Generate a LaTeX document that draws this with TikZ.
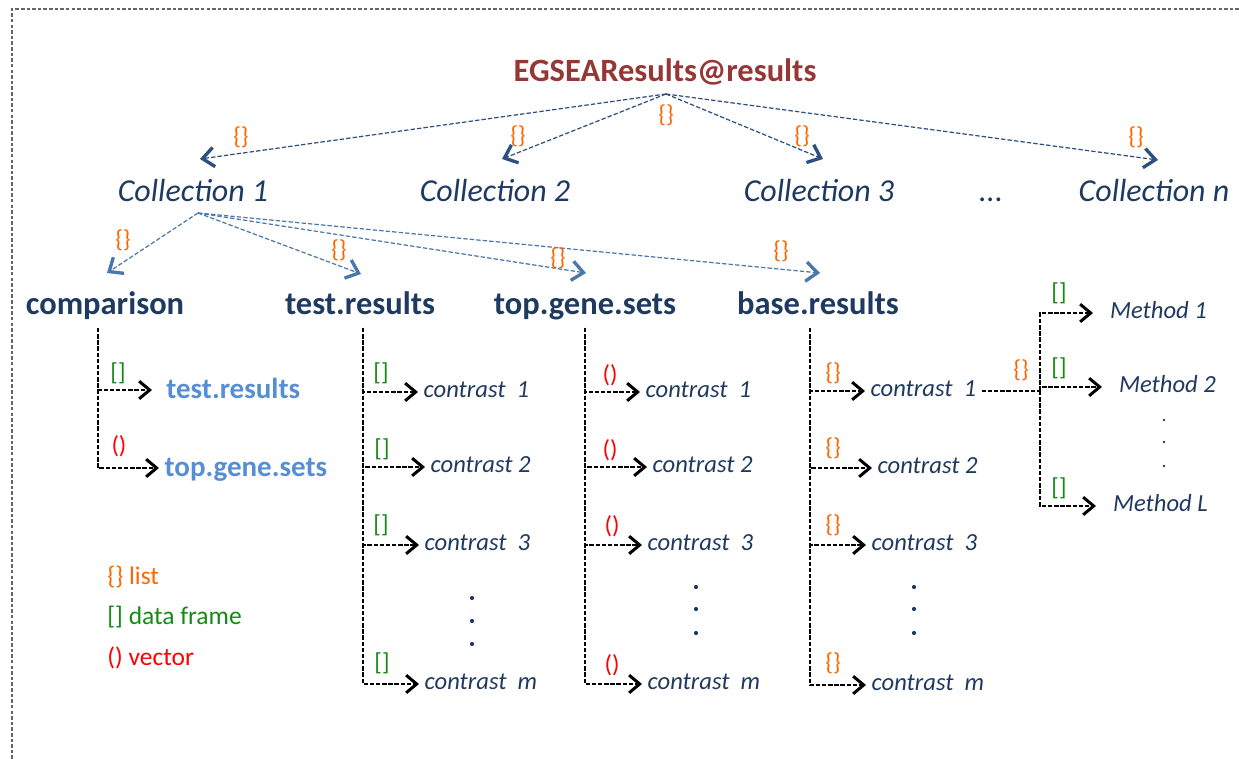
\documentclass[tikz,border=0pt]{standalone}
\usepackage{fontspec}
\setmainfont{Carlito}
\usepackage{xcolor}
\usepackage{tikz}
\usetikzlibrary{arrows.meta,positioning}

\definecolor{navy}{HTML}{1F3A60}
\definecolor{titlered}{HTML}{953735}
\definecolor{linkblue}{HTML}{2C5080}
\definecolor{subblue}{HTML}{4A78AC}
\definecolor{lightblue}{HTML}{558ED5}
\definecolor{listorange}{HTML}{FF6600}
\definecolor{framegreen}{HTML}{148A14}
\definecolor{vecred}{HTML}{FF0000}

\begin{document}
\begin{tikzpicture}[x=0.02cm,y=-0.02cm]
\useasboundingbox (0,0) rectangle (1239,759);

\tikzstyle{frame}=[gray!80!black,dash pattern=on 2pt off 1.2pt,line width=0.6pt]
\tikzstyle{coll}=[font=\fontsize{18.2}{20}\selectfont\itshape,text=navy,inner sep=0pt,text height=1.05em,text depth=0.1em]
\tikzstyle{slot}=[font=\fontsize{18.5}{22}\selectfont\bfseries,text=navy,inner sep=0pt,text height=1.02em,text depth=0.1em]
\tikzstyle{item}=[anchor=west,inner xsep=3pt,inner ysep=0pt,text height=0.71em,text depth=0.07em,font=\fontsize{14}{16}\selectfont\itshape,text=navy]
\tikzstyle{subitem}=[item,font=\fontsize{16.5}{19}\selectfont\bfseries,text=lightblue,text height=1.05em,text depth=0.06em]
\tikzstyle{meth}=[item,inner xsep=9.5pt]
\tikzstyle{lst}=[font=\fontsize{14}{16}\selectfont,text=listorange,inner sep=0pt]
\tikzstyle{dfr}=[lst,text=framegreen]
\tikzstyle{vec}=[lst,text=vecred]
\tikzstyle{legendtxt}=[anchor=west,inner sep=0pt,font=\fontsize{14.5}{16}\selectfont]
\tikzstyle{rootlink}=[linkblue,dash pattern=on 2.5pt off 1.2pt,line width=0.7pt,-{Straight Barb[length=6.5pt,width=11pt,line width=1.9pt]}]
\tikzstyle{sublink}=[rootlink,subblue]
\tikzstyle{leafline}=[black,dash pattern=on 2.5pt off 1pt,line width=0.6pt]
\tikzstyle{leaflink}=[leafline,-{Straight Barb[length=6pt,width=10pt,line width=1.7pt]}]

\draw[frame] (12,759) |- (1239,9);

\node[slot,text=titlered] (res) at (665,73) {EGSEAResults@results};
\coordinate (resb) at (666,94);

\node[coll] (col1) at (193,193) {Collection 1};
\node[coll] (col2) at (495,193) {Collection 2};
\node[coll] (col3) at (819,193) {Collection 3};
\node[coll] (coldots) at (991,193) {...};
\node[coll] (coln) at (1154,193) {Collection n};

\draw[rootlink] (resb) -- ([shift={(7,-34)}]col1.center);
\draw[rootlink] (resb) -- ([shift={(7,-34)}]col2.center);
\draw[rootlink] (resb) -- ([shift={(4,-34)}]col3.center);
\draw[rootlink] (resb) -- ([shift={(4,-33)}]coln.center);
\node[lst] (b0) at (666,115) {\{\}};
\node[lst] (b1) at (241,137) {\{\}};
\node[lst] (b2) at (518,136) {\{\}};
\node[lst] (b3) at (802,136) {\{\}};
\node[lst] (bn) at (1136,137) {\{\}};

\node[slot] (cmp) at (105,306) {comparison};
\node[slot] (tres) at (360,306) {test.results};
\node[slot] (tgs) at (585,306) {top.gene.sets};
\node[slot] (bres) at (818,306) {base.results};

\coordinate (c1b) at (198,213);
\draw[sublink] (c1b) -- ([shift={(2,-33)}]cmp.center);
\draw[sublink] (c1b) -- ([shift={(1,-32)}]tres.center);
\draw[sublink] (c1b) -- ([shift={(1,-33)}]tgs.center);
\draw[sublink] (c1b) -- ([shift={(2,-33)}]bres.center);
\node[lst] (s1) at (123,240) {\{\}};
\node[lst] (s2) at (339,250) {\{\}};
\node[lst] (s3) at (558,258) {\{\}};
\node[lst] (s4) at (781,251) {\{\}};

\coordinate (cmpv) at (98,328);
\node[subitem,inner xsep=8pt] (cmpt) at (152,390) {test.results};
\node[subitem] (cmpg) at (159,468) {top.gene.sets};
\draw[leaflink] (cmpv) |- (cmpt.west);
\draw[leaflink] (cmpv) |- (cmpg.west);
\node[dfr] (l1) at (118,373) {[]};
\node[vec] (l2) at (119,446) {()};

\coordinate (trv) at (363,328);
\node[item] (tr1) at (418,392) {contrast\ \ 1};
\node[item] (tr2) at (425,467) {contrast 2};
\node[item] (tr3) at (419,545) {contrast\ \ 3};
\node[item] (trm) at (419,684) {contrast\ \ m};
\draw[leaflink] (trv) |- (tr1.west);
\draw[leaflink] (trv) |- (tr2.west);
\draw[leaflink] (trv) |- (tr3.west);
\draw[leaflink] (trv) |- (trm.west);
\node[dfr] (t1) at (381,373) {[]};
\node[dfr] (t2) at (382,449) {[]};
\node[dfr] (t3) at (381,525) {[]};
\node[dfr] (tm) at (382,663) {[]};
\fill[navy] (472,598) circle (1.2pt) (472,621) circle (1.2pt) (472,644) circle (1.2pt);

\coordinate (tgv) at (585,328);
\node[item] (tg1) at (640,392) {contrast\ \ 1};
\node[item] (tg2) at (647,467) {contrast 2};
\node[item] (tg3) at (642,545) {contrast\ \ 3};
\node[item] (tgm) at (642,684) {contrast\ \ m};
\draw[leaflink] (tgv) |- (tg1.west);
\draw[leaflink] (tgv) |- (tg2.west);
\draw[leaflink] (tgv) |- (tg3.west);
\draw[leaflink] (tgv) |- (tgm.west);
\node[vec] (g1) at (610,375) {()};
\node[vec] (g2) at (610,450) {()};
\node[vec] (g3) at (612,526) {()};
\node[vec] (gm) at (612,665) {()};
\fill[navy] (696,587) circle (1.2pt) (696,609) circle (1.2pt) (696,633) circle (1.2pt);

\coordinate (brv) at (810,328);
\node[item] (br1) at (865,391) {contrast\ \ 1};
\node[item] (br2) at (872,468) {contrast 2};
\node[item] (br3) at (866,545) {contrast\ \ 3};
\node[item] (brm) at (866,685) {contrast\ \ m};
\draw[leaflink] (brv) |- (br1.west);
\draw[leaflink] (brv) |- (br2.west);
\draw[leaflink] (brv) |- (br3.west);
\draw[leaflink] (brv) |- (brm.west);
\node[lst] (r1) at (833,373) {\{\}};
\node[lst] (r2) at (833,448) {\{\}};
\node[lst] (r3) at (833,525) {\{\}};
\node[lst] (rm) at (833,663) {\{\}};
\fill[navy] (914,587) circle (1.2pt) (914,609) circle (1.2pt) (914,633) circle (1.2pt);

\coordinate (mj) at (1040,391);
\node[meth] (m1) at (1093,313) {Method 1};
\node[meth] (m2) at (1102,387) {Method 2};
\node[meth] (mL) at (1096,506) {Method L};
\draw[leafline] (br1.east) -- (mj);
\draw[leaflink] (mj) |- (m1.west);
\draw[leaflink] (mj) |- (m2.west);
\draw[leaflink] (mj) |- (mL.west);
\node[lst] (mb) at (1021,370) {\{\}};
\node[dfr] (d1) at (1059,293) {[]};
\node[dfr] (d2) at (1059,368) {[]};
\node[dfr] (dL) at (1059,488) {[]};
\fill[navy] (1164,420) circle (0.8pt) (1164,442) circle (0.8pt) (1164,466) circle (0.8pt);

\node[legendtxt,text=listorange] (leg1) at (107,577) {\{\} list};
\node[legendtxt,text=framegreen] (leg2) at (107,617) {[] data frame};
\node[legendtxt,text=vecred] (leg3) at (107,658) {() vector};
\end{tikzpicture}
\end{document}
